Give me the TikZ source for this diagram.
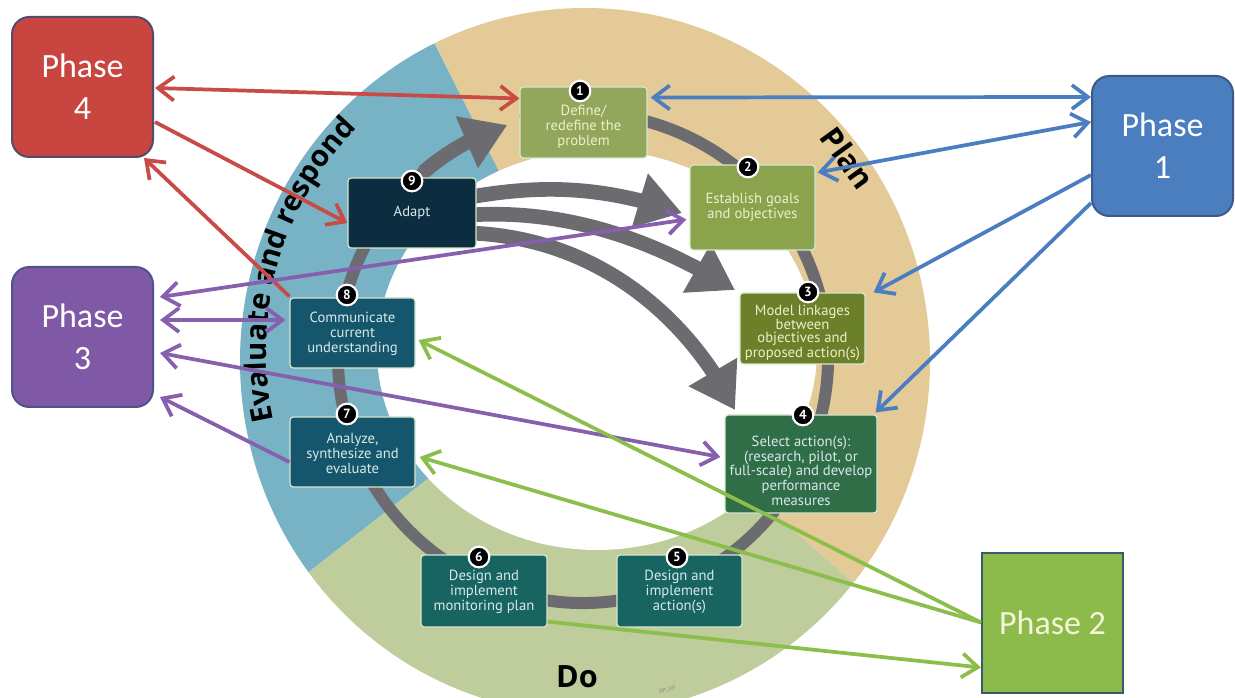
\documentclass[tikz,border=0pt]{standalone}
\usepackage{fontspec}
\setmainfont{PT Sans}
\newfontfamily\phasefont{Carlito}
\newfontfamily\labelfont{Open Sans}
\usetikzlibrary{arrows.meta,calc,decorations.text,bending}
\definecolor{tanc}{RGB}{227,202,150}
\definecolor{bluec}{RGB}{120,178,197}
\definecolor{greenc}{RGB}{190,205,155}
\definecolor{grayc}{RGB}{108,108,112}
\definecolor{boxedge}{RGB}{215,232,205}
\definecolor{fb1}{RGB}{146,166,92}
\definecolor{fb2}{RGB}{140,163,78}
\definecolor{fb3}{RGB}{108,128,42}
\definecolor{fb4}{RGB}{48,110,72}
\definecolor{fb5}{RGB}{24,100,96}
\definecolor{fb7}{RGB}{22,86,108}
\definecolor{fb9}{RGB}{12,44,64}
\definecolor{txy}{RGB}{240,238,200}
\definecolor{txb}{RGB}{214,234,234}
\definecolor{ph4c}{RGB}{200,70,63}
\definecolor{ph1c}{RGB}{74,126,191}
\definecolor{ph3c}{RGB}{128,89,166}
\definecolor{ph2c}{RGB}{141,187,75}
\definecolor{ph4e}{RGB}{84,74,110}
\definecolor{ph1e}{RGB}{58,90,136}
\definecolor{ph3e}{RGB}{78,84,138}
\definecolor{ph2e}{RGB}{60,88,108}
\definecolor{redl}{RGB}{200,75,70}
\definecolor{bluel}{RGB}{74,126,193}
\definecolor{purpl}{RGB}{135,95,175}
\definecolor{greenl}{RGB}{140,190,75}
\newcommand{\boxtext}[3]{\raisebox{#1}[\height][\depth]{\parbox{#2}{\centering #3}}}
\begin{document}
\begin{tikzpicture}[x=0.75pt,y=-0.75pt,
  >={Straight Barb[length=12pt,width=18pt]},
  phase/.style={rectangle, rounded corners=13pt, line width=1.5pt, align=center,
    text=white, font=\phasefont\fontsize{25.5}{31.5}\selectfont,
    minimum width=105.75pt, minimum height=105pt, inner sep=0pt},
  stepbox/.style={rectangle, rounded corners=2.5pt, draw=boxedge, line width=0.9pt,
    align=center, inner sep=0pt, font=\fontsize{11}{11.25}\selectfont},
  badge/.style={circle, fill=black, draw=white, line width=1.6pt, minimum size=15.5pt,
    inner sep=0pt, text=white, font=\bfseries\fontsize{10}{10}\selectfont},
  conn/.style={line width=2.8pt},
  bigarrow/.style={draw=grayc, line width=11pt, -{Triangle[length=33pt,width=40pt]}},
  ringlabel/.style={font=\labelfont\bfseries\fontsize{23}{23}\selectfont, text=black}
]
\useasboundingbox (0,0) rectangle (1235,698);
\fill[white] (0,0) rectangle (1235,698);

% ring sectors
\begin{scope}
  \clip (585,361) ellipse [x radius=345, y radius=353];
  \fill[tanc] (590,352) -- (250,-322) -- (1500,-322) -- (1490,1141) -- cycle;
  \fill[bluec] (590,352) -- (250,-322) -- (-300,-322) -- (-300,900) -- (20,798) -- cycle;
  \fill[greenc] (590,352) -- (20,798) -- (590,1300) -- (1490,1141) -- cycle;
\end{scope}
\fill[white] (597,350) ellipse [x radius=220, y radius=200];

% gray cycle ring
\draw[grayc, line width=9pt] (583,358) ++(-104.8:245) arc [start angle=-104.8, end angle=229.3, radius=245];
\draw[bigarrow] (583,358) ++(229.3:245) arc [start angle=229.3, end angle=252, radius=245];

% big arrows from Adapt
\draw[bigarrow] (470,197) .. controls (540,185) and (600,185) .. (682,213);
\draw[bigarrow] (470,215) .. controls (580,208) and (670,250) .. (735,290);
\draw[bigarrow] (470,233) .. controls (600,238) and (690,320) .. (735,410);

% ring labels
\path[decorate, decoration={text along path, text align=center,
  text={|\labelfont\bfseries\fontsize{22}{22}\selectfont|Evaluate and respond}}]
  (584,351) ++(145:318) arc [start angle=145, end angle=247, radius=318];
\node[ringlabel, rotate=-54] (plan) at (848,158) {Plan};
\node[ringlabel] (do) at (577,677) {Do};
\node[rotate=18, font=\fontsize{4}{4}\selectfont, text=gray] (dp) at (668,690) {DP\_107};

% step boxes
\node[stepbox, fill=fb1, text=txy, minimum width=95.25pt, minimum height=53.25pt] (b1) at (583.5,122.5) {\boxtext{-3.5pt}{92pt}{Define/\\redefine the\\problem}};
\node[stepbox, fill=fb2, text=txy, minimum width=93.75pt, minimum height=63.75pt] (b2) at (752.5,207.5) {Establish goals\\and objectives};
\node[stepbox, fill=fb3, text=txy, minimum width=93.75pt, minimum height=53.25pt, font=\fontsize{11}{9.4}\selectfont] (b3) at (802.5,328.5) {\boxtext{-3pt}{92pt}{Model linkages\\between\\objectives and\\proposed action(s)}};
\node[stepbox, fill=fb4, text=txb, minimum width=114pt, minimum height=73.5pt, font=\fontsize{11}{11}\selectfont] (b4) at (801,464) {\boxtext{-5pt}{112pt}{Select action(s):\\(research, pilot, or\\full-scale) and develop\\performance\\measures}};
\node[stepbox, fill=fb5, text=txb, minimum width=93.75pt, minimum height=54pt] (b5) at (679.5,591) {\boxtext{-1pt}{92pt}{Design and\\implement\\action(s)}};
\node[stepbox, fill=fb5, text=txb, minimum width=94.5pt, minimum height=54pt] (b6) at (484,591) {\boxtext{-1pt}{92pt}{Design and\\implement\\monitoring plan}};
\node[stepbox, fill=fb7, text=txb, minimum width=93.75pt, minimum height=52.5pt] (b7) at (352.5,452) {\boxtext{-1pt}{92pt}{Analyze,\\synthesize and\\evaluate}};
\node[stepbox, fill=fb7, text=txb, minimum width=93.75pt, minimum height=52.5pt] (b8) at (352.5,333) {\boxtext{-1pt}{92pt}{Communicate\\current\\understanding}};
\node[stepbox, fill=fb9, text=txb, minimum width=96pt, minimum height=52.5pt] (b9) at (412,213) {Adapt};

% badges
\node[badge] (n1) at (580,91) {1};
\node[badge] (n2) at (748,167) {2};
\node[badge] (n3) at (808,292) {3};
\node[badge] (n4) at (803,415) {4};
\node[badge] (n5) at (677,557) {5};
\node[badge] (n6) at (479,557) {6};
\node[badge] (n7) at (347,414) {7};
\node[badge] (n8) at (347,295) {8};
\node[badge] (n9) at (412,181) {9};

% phase boxes
\node[phase, fill=ph4c, draw=ph4e] (ph4) at (82.5,87) {Phase\\4};
\node[phase, fill=ph1c, draw=ph1e] (ph1) at (1162.5,146) {Phase\\1};
\node[phase, fill=ph3c, draw=ph3e] (ph3) at (82.5,337) {Phase\\3};
\node[phase, fill=ph2c, draw=ph2e, rounded corners=0pt, text={rgb,255:red,245;green,245;blue,220}] (ph2) at (1052.5,622.5) {Phase 2};

% red connectors (Phase 4)
\draw[conn, redl, <->] ($(ph4.east)+(1,1)$) -- ($(b1.west)+(0,-24)$);
\draw[conn, redl, ->] ($(ph4.east)+(1,35)$) -- ($(b9.west)+(0,10)$);
\draw[conn, redl, ->] ($(b8.north west)+(0,-1)$) -- ($(ph4.south east)+(-10,0)$);

% blue connectors (Phase 1)
\draw[conn, bluel, <->] ($(b1.east)+(3,-25)$) -- ($(ph1.west)+(0,-49)$);
\draw[conn, bluel, <->] ($(b2.east)+(2,-35)$) -- ($(ph1.west)+(0,-24)$);
\draw[conn, bluel, ->] ($(ph1.west)+(0,29)$) -- ($(b3.north east)+(8,0)$);
\draw[conn, bluel, ->] ($(ph1.west)+(0,57)$) -- ($(b4.north east)+(-2,-2)$);

% purple connectors (Phase 3)
\draw[conn, purpl, <->] ($(ph3.east)+(6,-40)$) -- ($(b2.west)+(-3,12)$);
\draw[conn, purpl, <->] ($(ph3.east)+(6,-17)$) -- ($(b8.west)+(-4,-13)$);
\draw[conn, purpl, <->] ($(ph3.east)+(6,16)$) -- ($(b4.west)+(-4,-7)$);
\draw[conn, purpl, ->] ($(b7.west)+(0,10)$) -- ($(ph3.east)+(6,60)$);

% green connectors (Phase 2)
\draw[conn, greenl, ->] (ph2.west) -- ($(b8.east)+(3,7)$);
\draw[conn, greenl, ->] (ph2.west) -- ($(b7.east)+(4,5)$);
\draw[conn, greenl, ->] ($(b6.south east)+(0,-6)$) -- ($(ph2.west)+(0,45)$);
\end{tikzpicture}
\end{document}
